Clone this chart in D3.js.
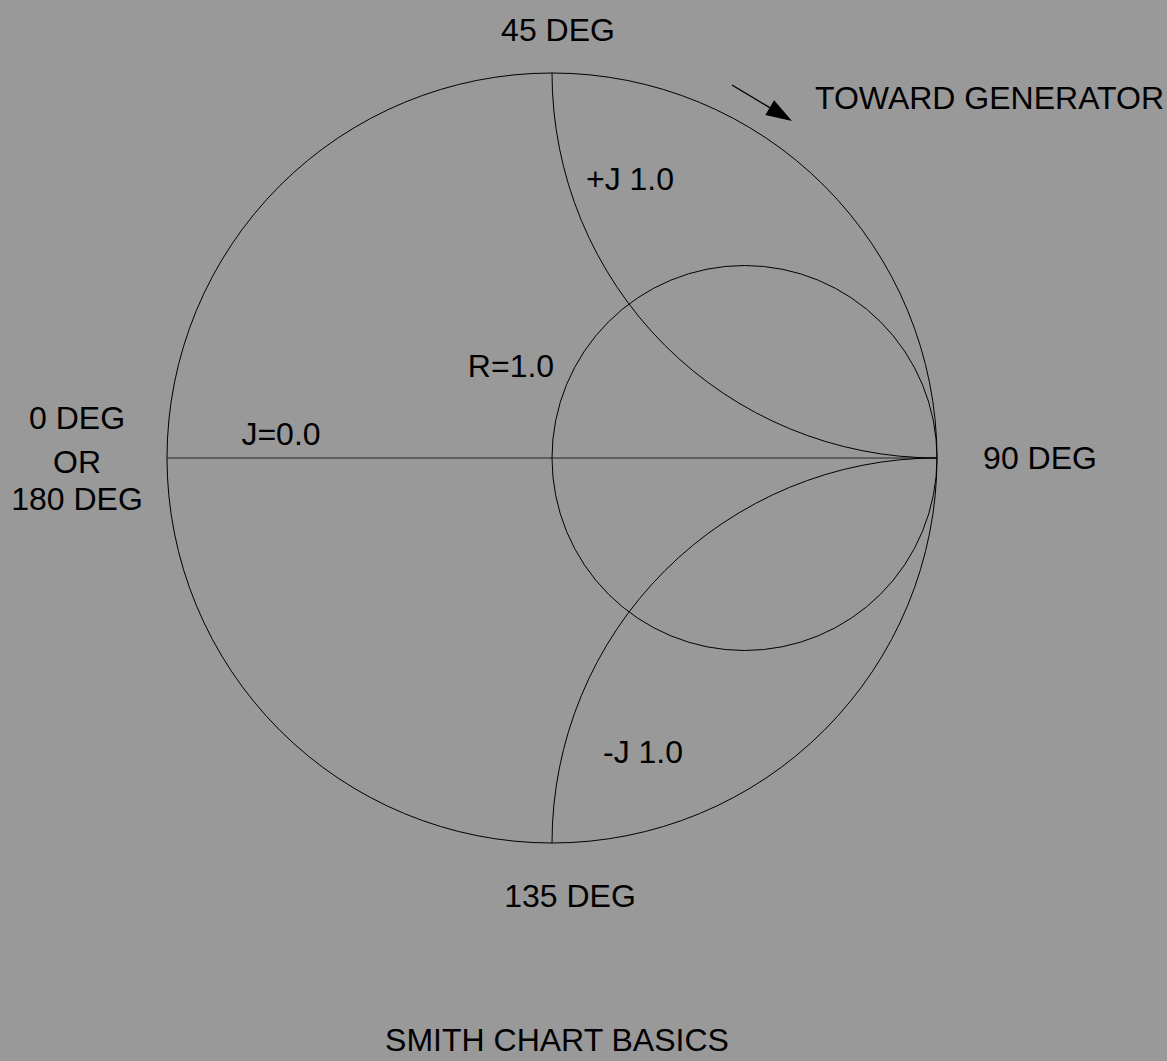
<!DOCTYPE html>
<html>
<head>
<meta charset="utf-8">
<script src="https://cdn.jsdelivr.net/npm/d3@7"></script>
<style>
  html, body { margin: 0; padding: 0; background: #999999; }
  svg { display: block; }
</style>
</head>
<body>
<div id="chart"></div>
<script>
// Smith chart basics: one resistance circle, two reactance arcs, real axis
const resistances = [1.0];          // constant-R circles (R=0 is the outer rim)
const reactances = [1.0, -1.0];     // constant-X arcs
const rimLabels = ["45 DEG", "90 DEG", "135 DEG"];
const leftLabel = ["0 DEG", "OR", "180 DEG"];
const curveLabels = ["+J 1.0", "-J 1.0", "R=1.0", "J=0.0"];
const arrowLabel = "TOWARD GENERATOR";
const title = "SMITH CHART BASICS";

const W = 1167, H = 1061;
const cx = 552, cy = 458, R = 385;
const FONT = "Liberation Sans, Arial, Helvetica, sans-serif";

const x = d3.scaleLinear().domain([-1, 1]).range([cx - R, cx + R]);
const y = d3.scaleLinear().domain([-1, 1]).range([cy + R, cy - R]);
const k = x(1) - x(0); // px per unit

const svg = d3.select("#chart").append("svg")
  .attr("width", W).attr("height", H);

svg.append("rect").attr("width", W).attr("height", H).attr("fill", "#999999");

const g = svg.append("g").attr("fill", "none").attr("stroke", "#000").attr("stroke-width", 1);

// outer rim (R=0)
g.append("circle").attr("cx", x(0)).attr("cy", y(0)).attr("r", k);

// real axis J=0
g.append("line")
  .attr("x1", x(-1)).attr("y1", y(0)).attr("x2", x(1)).attr("y2", y(0))
  .attr("stroke", "#222");

// constant resistance circles: centre r/(1+r), radius 1/(1+r)
g.selectAll("circle.res").data(resistances).join("circle")
  .attr("class", "res")
  .attr("cx", r => x(r / (1 + r)))
  .attr("cy", y(0))
  .attr("r", r => k / (1 + r));

// constant reactance arcs: centre (1, 1/X), radius 1/|X|, inside the rim only
g.selectAll("path.reac").data(reactances).join("path")
  .attr("class", "reac")
  .attr("d", X => {
    const p = d3.path();
    const ccx = x(1), ccy = y(1 / X), rr = k / Math.abs(X);
    // rim intersection
    const ix = (X * X - 1) / (X * X + 1), iy = 2 * X / (X * X + 1);
    const a0 = X > 0 ? Math.PI / 2 : -Math.PI / 2; // at point (1,0)
    const a1 = Math.atan2(y(iy) - ccy, x(ix) - ccx);
    p.arc(ccx, ccy, rr, a0, a1, X > 0 ? false : true);
    return p.toString();
  });

// arrow toward generator
const ax0 = 732, ay0 = 85, ax1 = 792, ay1 = 121;
const ang = Math.atan2(ay1 - ay0, ax1 - ax0);
const hl = 26, hw = 8.5;
const bx = ax1 - hl * Math.cos(ang), by = ay1 - hl * Math.sin(ang);
svg.append("line")
  .attr("x1", ax0).attr("y1", ay0).attr("x2", bx).attr("y2", by)
  .attr("stroke", "#000").attr("stroke-width", 1.4);
svg.append("path")
  .attr("d", d3.line()([
    [ax1, ay1],
    [bx + hw * Math.sin(ang), by - hw * Math.cos(ang)],
    [bx - hw * Math.sin(ang), by + hw * Math.cos(ang)]
  ]) + "Z")
  .attr("fill", "#000");

// text
const txt = svg.append("g")
  .attr("font-family", FONT).attr("font-size", 32).attr("fill", "#000");

function label(t, px, py, anchor) {
  txt.append("text").attr("x", px).attr("y", py)
    .attr("text-anchor", anchor || "middle").text(t);
}

label(rimLabels[0], 558, 41);
label(rimLabels[1], 1040, 469);
label(rimLabels[2], 570, 907);
leftLabel.forEach((t, i) => label(t, 77, [429, 473, 510][i]));

label(curveLabels[0], 630, 190);
label(curveLabels[1], 643, 763);
label(curveLabels[2], 511, 377);
label(curveLabels[3], 281, 445);

label(arrowLabel, 815, 109, "start");
label(title, 557, 1051);
</script>
</body>
</html>
